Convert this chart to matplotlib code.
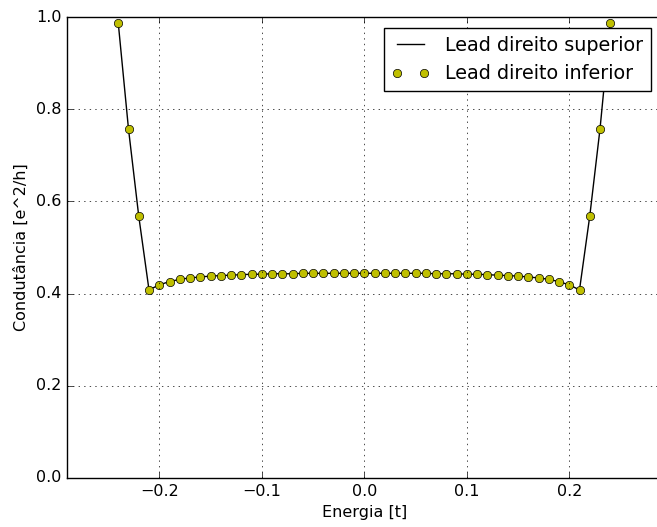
import matplotlib
matplotlib.use("Agg")
import matplotlib.pyplot as plt
import numpy as np

plt.style.use('classic')
plt.rcParams['font.size'] = 11.5

energia = [-0.24, -0.23, -0.22, -0.21, -0.20, -0.19, -0.18, -0.17, -0.16, -0.15,
           -0.14, -0.13, -0.12, -0.11, -0.10, -0.09, -0.08, -0.07, -0.06, -0.05,
           -0.04, -0.03, -0.02, -0.01, 0.00, 0.01, 0.02, 0.03, 0.04, 0.05,
           0.06, 0.07, 0.08, 0.09, 0.10, 0.11, 0.12, 0.13, 0.14, 0.15,
           0.16, 0.17, 0.18, 0.19, 0.20, 0.21, 0.22, 0.23, 0.24]

superior = [0.987, 0.757, 0.568, 0.408, 0.419, 0.426, 0.431, 0.434, 0.436, 0.438,
            0.439, 0.440, 0.441, 0.442, 0.442, 0.443, 0.443, 0.443, 0.444, 0.444,
            0.444, 0.444, 0.444, 0.444, 0.444, 0.444, 0.444, 0.444, 0.444, 0.444,
            0.444, 0.443, 0.443, 0.443, 0.442, 0.442, 0.441, 0.440, 0.439, 0.438,
            0.436, 0.434, 0.431, 0.426, 0.419, 0.408, 0.568, 0.757, 0.987]

inferior = list(superior)

dpi = 100
fig = plt.figure(figsize=(657 / dpi, 527 / dpi), dpi=dpi, facecolor='white')
W, H = 657, 527
ax = fig.add_axes([67 / W, (H - 478) / H, 594.5 / W, 461 / H])

ax.plot(energia, superior, 'k-', label='Lead direito superior')
ax.plot(energia, inferior, 'yo', label='Lead direito inferior')

ax.set_xlim(-0.29, 0.29)
ax.set_ylim(0.0, 1.0)
ax.set_xticks([-0.2, -0.1, 0.0, 0.1, 0.2])
ax.set_yticks([0.0, 0.2, 0.4, 0.6, 0.8, 1.0])
ax.grid(True)
ax.set_xlabel('Energia [t]')
ax.set_ylabel('Condutância [e^2/h]')
ax.legend(loc='upper right', bbox_to_anchor=(651 / W, (H - 28) / H),
          bbox_transform=fig.transFigure, borderaxespad=0, fontsize=13.8)

fig.savefig('out.png', dpi=dpi, facecolor='white')
